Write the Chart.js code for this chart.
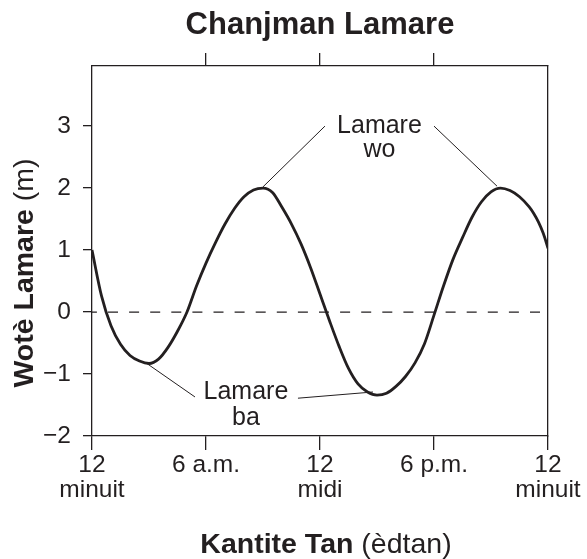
<!DOCTYPE html>
<html>
<head>
<meta charset="utf-8">
<script src="https://cdn.jsdelivr.net/npm/chart.js@4.4.1/dist/chart.umd.min.js"></script>
<style>
  html, body { margin: 0; padding: 0; background: #fff; }
</style>
</head>
<body>
<canvas id="tideChart" width="587" height="559"></canvas>
<script>
// Tide data (hours after midnight, height in metres)
const hours = [0, 0.5, 1, 1.5, 2, 2.5, 3, 3.5, 4, 4.5, 5, 5.5, 6, 6.5, 7, 7.5, 8, 8.5, 9, 9.5,
    10, 10.5, 11, 11.5, 12, 12.5, 13, 13.5, 14, 14.5, 15, 15.5, 16, 16.5, 17, 17.5, 18, 18.5, 19, 19.5,
    20, 20.5, 21, 21.5, 22, 22.5, 23, 23.25, 23.5, 23.75, 24];
const tideHeight = [1.00, 0.26, -0.22, -0.52, -0.70, -0.79, -0.83, -0.76, -0.57, -0.31, 0.00, 0.42, 0.79, 1.12, 1.42, 1.67, 1.86, 1.97, 2.00, 1.93,
    1.69, 1.42, 1.10, 0.72, 0.29, -0.14, -0.55, -0.91, -1.16, -1.29, -1.34, -1.31, -1.20, -1.04, -0.82, -0.51, -0.05, 0.42, 0.85, 1.20,
    1.53, 1.78, 1.94, 2.00, 1.96, 1.86, 1.70, 1.59, 1.45, 1.27, 1.03];

// mean water level reference line
const zeroLineHours = [0, 24];
const zeroLineLevel = [0, 0];

const xTickValues = [0, 6, 12, 18, 24];
const xTickLabels = [['12', 'minuit'], ['6 a.m.'], ['12', 'midi'], ['6 p.m.'], ['12', 'minuit']];
const topTickValues = [6, 12, 18];
const yTickValues = [-2, -1, 0, 1, 2, 3];

const chartTitle = 'Chanjman Lamare';
const yTitleBold = 'Wotè Lamare';
const yTitleRest = ' (m)';
const xTitleBold = 'Kantite Tan';
const xTitleRest = ' (èdtan)';

const INK = '#231f20';
const FAMILY = '"Liberation Sans", Arial, Helvetica, sans-serif';

// callouts, anchored in data units
const callouts = [
    { lines: ['Lamare', 'wo'], at: [15.13, 2.89], lineGap: 24,
      leaders: [[[12.26, 3.0], [9.0, 2.02]], [[18.0, 3.0], [21.32, 2.03]]] },
    { lines: ['Lamare', 'ba'], at: [8.1, -1.40], lineGap: 26,
      leaders: [[[2.84, -0.82], [5.42, -1.37]], [[10.84, -1.39], [14.79, -1.29]]] }
];

function drawMixed(ctx, bold, rest, size, cx, y) {
    ctx.font = 'bold ' + size + 'px ' + FAMILY;
    const wb = ctx.measureText(bold).width;
    ctx.font = size + 'px ' + FAMILY;
    const wr = ctx.measureText(rest).width;
    const start = cx - (wb + wr) / 2;
    ctx.textAlign = 'left';
    ctx.font = 'bold ' + size + 'px ' + FAMILY;
    ctx.fillText(bold, start, y);
    ctx.font = size + 'px ' + FAMILY;
    ctx.fillText(rest, start + wb, y);
}

const textPlugin = {
    id: 'tideText',
    afterDraw(chart) {
        const ctx = chart.ctx;
        const sx = chart.scales.x;
        const sy = chart.scales.y;
        const area = chart.chartArea;
        ctx.save();
        ctx.fillStyle = INK;
        ctx.strokeStyle = INK;
        ctx.textBaseline = 'alphabetic';

        // title
        ctx.font = 'bold 31px ' + FAMILY;
        ctx.textAlign = 'center';
        ctx.fillText(chartTitle, (area.left + area.right) / 2, 34);

        // axis titles (bold + regular part)
        drawMixed(ctx, xTitleBold, xTitleRest, 28.5, 326, 553);
        ctx.save();
        ctx.translate(33, 273);
        ctx.rotate(-Math.PI / 2);
        drawMixed(ctx, yTitleBold, yTitleRest, 28.5, 0, 0);
        ctx.restore();

        // callouts
        ctx.font = '25px ' + FAMILY;
        ctx.textAlign = 'center';
        ctx.lineWidth = 1;
        callouts.forEach(c => {
            const px = sx.getPixelForValue(c.at[0]);
            const py = sy.getPixelForValue(c.at[1]);
            c.lines.forEach((t, i) => ctx.fillText(t, px, py + i * c.lineGap));
            c.leaders.forEach(l => {
                ctx.beginPath();
                ctx.moveTo(sx.getPixelForValue(l[0][0]), sy.getPixelForValue(l[0][1]));
                ctx.lineTo(sx.getPixelForValue(l[1][0]), sy.getPixelForValue(l[1][1]));
                ctx.stroke();
            });
        });
        ctx.restore();
    }
};

const axisLine = { display: true, color: INK, width: 1.3 };

new Chart(document.getElementById('tideChart'), {
    type: 'line',
    data: {
        datasets: [{
            data: hours.map((h, i) => ({ x: h, y: tideHeight[i] })),
            borderColor: INK,
            borderWidth: 2.8,
            pointRadius: 0,
            cubicInterpolationMode: 'monotone',
            fill: false
        }, {
            data: zeroLineHours.map((h, i) => ({ x: h, y: zeroLineLevel[i] })),
            borderColor: INK,
            borderWidth: 1.3,
            borderDash: [10, 11.1],
            borderDashOffset: 5.1,
            pointRadius: 0,
            fill: false
        }]
    },
    options: {
        responsive: false,
        devicePixelRatio: 1,
        animation: false,
        layout: { padding: 0 },
        plugins: {
            legend: { display: false },
            tooltip: { enabled: false }
        },
        scales: {
            x: {
                type: 'linear',
                position: 'bottom',
                min: 0,
                max: 24,
                afterBuildTicks: s => { s.ticks = xTickValues.map(v => ({ value: v })); },
                afterFit: s => { s.height = 123; s.paddingLeft = 0; s.paddingRight = 0; },
                border: axisLine,
                grid: { drawOnChartArea: false, drawTicks: true, tickLength: 14, color: INK, lineWidth: 1.3 },
                ticks: {
                    autoSkip: false,
                    maxRotation: 0,
                    minRotation: 0,
                    padding: 3,
                    color: INK,
                    font: { family: FAMILY, size: 24.5, lineHeight: 1.0 },
                    callback: v => xTickLabels[xTickValues.indexOf(v)]
                }
            },
            x2: {
                type: 'linear',
                position: 'top',
                min: 0,
                max: 24,
                afterBuildTicks: s => { s.ticks = topTickValues.map(v => ({ value: v })); },
                afterFit: s => { s.height = 66; s.paddingLeft = 0; s.paddingRight = 0; },
                border: axisLine,
                grid: { drawOnChartArea: false, drawTicks: true, tickLength: 13, color: INK, lineWidth: 1.3 },
                ticks: { display: false }
            },
            y: {
                type: 'linear',
                position: 'left',
                min: -2,
                max: 3.97,
                afterBuildTicks: s => { s.ticks = yTickValues.map(v => ({ value: v })); },
                afterFit: s => { s.width = 92; s.paddingTop = 0; s.paddingBottom = 0; },
                border: axisLine,
                grid: { drawOnChartArea: false, drawTicks: true, tickLength: 9, color: INK, lineWidth: 1.3 },
                ticks: {
                    padding: 12,
                    color: INK,
                    font: { family: FAMILY, size: 24.5 },
                    callback: v => (v < 0 ? '\u2212' + Math.abs(v) : String(v))
                }
            },
            y2: {
                type: 'linear',
                position: 'right',
                min: -2,
                max: 3.97,
                afterFit: s => { s.width = 39; s.paddingTop = 0; s.paddingBottom = 0; },
                border: axisLine,
                grid: { drawOnChartArea: false, drawTicks: false },
                ticks: { display: false }
            }
        }
    },
    plugins: [textPlugin]
});
</script>
</body>
</html>
